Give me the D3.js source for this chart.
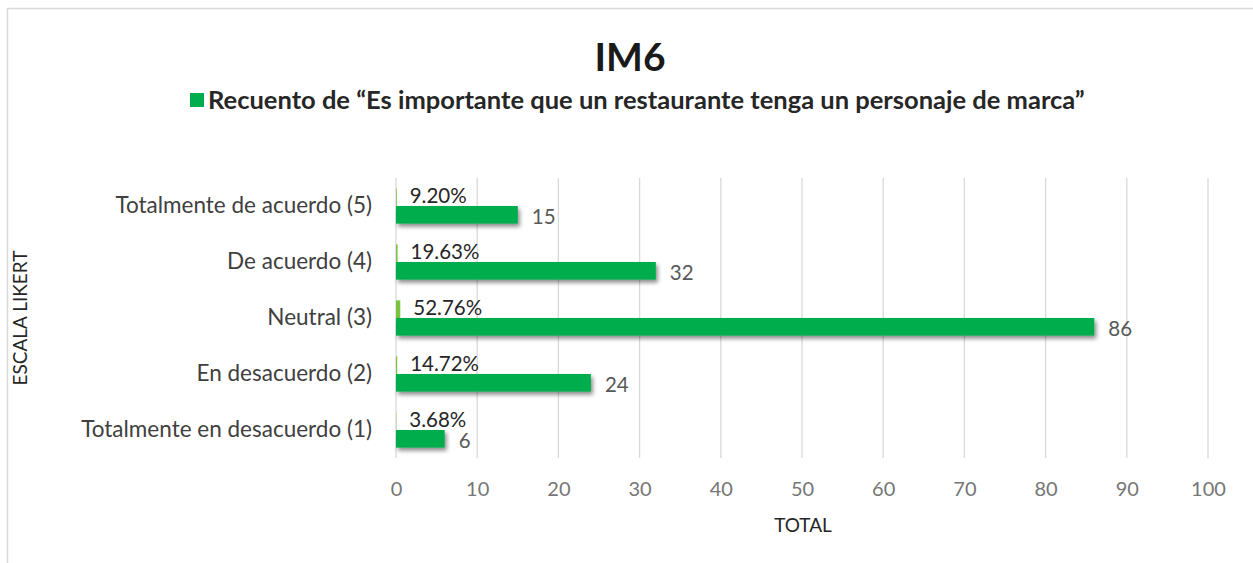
<!DOCTYPE html>
<html>
<head>
<meta charset="utf-8">
<script src="https://cdn.jsdelivr.net/npm/d3@7"></script>
<style>
  body { margin: 0; background: #fff; }
  svg { font-family: Lato, "Noto Sans", sans-serif; }
</style>
</head>
<body>
<div id="chart"></div>
<script>
// data
const categories = ["Totalmente de acuerdo (5)", "De acuerdo (4)", "Neutral (3)", "En desacuerdo (2)", "Totalmente en desacuerdo (1)"];
const counts = [15, 32, 86, 24, 6];
const shares = [0.0920, 0.1963, 0.5276, 0.1472, 0.0368];
const xTicks = [0, 10, 20, 30, 40, 50, 60, 70, 80, 90, 100];
const seriesName = "Recuento de \u201cEs importante que un restaurante tenga un personaje de marca\u201d";

const W = 1253, H = 563;
const margin = { top: 178, left: 396 };
const plotW = 812, plotH = 280;

const svg = d3.select("#chart").append("svg")
    .attr("width", W)
    .attr("height", H);

// shadow for bars
const defs = svg.append("defs");
const f = defs.append("filter").attr("id", "shadow")
    .attr("x", "-5%").attr("y", "-30%").attr("width", "115%").attr("height", "190%");
f.append("feDropShadow").attr("dx", 2).attr("dy", 3).attr("stdDeviation", 2.2)
    .attr("flood-color", "#000").attr("flood-opacity", 0.45);

// chart border
svg.append("rect")
    .attr("x", 7.5).attr("y", 8.5)
    .attr("width", W + 10).attr("height", H + 10)
    .attr("fill", "none").attr("stroke", "#d9d9d9").attr("stroke-width", 1.5);

svg.append("text")
    .attr("x", 630).attr("y", 71)
    .attr("text-anchor", "middle")
    .attr("font-size", 39).attr("font-weight", "bold").attr("fill", "#1a1a1a")
    .text("IM6");

// legend
const leg = svg.append("g");
leg.append("rect").attr("x", 190).attr("y", 93).attr("width", 14).attr("height", 14).attr("fill", "#00ad4e");
leg.append("text").attr("x", 208).attr("y", 109)
    .attr("font-size", 25.5).attr("font-weight", "bold").attr("fill", "#262626")
    .text(seriesName);

const g = svg.append("g").attr("transform", `translate(${margin.left},${margin.top})`);

const x = d3.scaleLinear().domain([0, 100]).range([0, plotW]);
const y = d3.scaleBand().domain(categories).range([0, plotH]).paddingInner(0.37).paddingOuter(0.185);
const sub = d3.scaleBand().domain(["pct", "cnt"]).range([0, y.bandwidth()]).padding(0.0);

// gridlines
g.append("g")
    .selectAll("line")
    .data(xTicks)
    .join("line")
    .attr("x1", d => x(d)).attr("x2", d => x(d))
    .attr("y1", 0).attr("y2", plotH)
    .attr("stroke", "#d9d9d9").attr("stroke-width", 1.3);

// x axis
const xAxis = g.append("g")
    .attr("transform", `translate(0,${plotH})`)
    .call(d3.axisBottom(x).tickValues(xTicks).tickSize(0).tickPadding(24));
xAxis.select(".domain").remove();
xAxis.selectAll("text").attr("font-size", 20).attr("fill", "#767676").attr("font-family", "Lato, sans-serif");

// y axis
const yAxis = g.append("g")
    .call(d3.axisLeft(y).tickSize(0).tickPadding(24));
yAxis.select(".domain").remove();
yAxis.selectAll("text").attr("font-size", 22.5).attr("fill", "#404040").attr("font-family", "Lato, sans-serif");

// percent bars (tiny, same axis)
g.selectAll(".pbar")
    .data(categories)
    .join("rect")
    .attr("class", "pbar")
    .attr("x", 0)
    .attr("y", d => y(d) + sub("pct"))
    .attr("width", (d, i) => x(shares[i]))
    .attr("height", sub.bandwidth())
    .attr("fill", "#7cc242");

// count bars
g.selectAll(".bar")
    .data(categories)
    .join("rect")
    .attr("class", "bar")
    .attr("x", 0)
    .attr("y", d => y(d) + sub("cnt"))
    .attr("width", (d, i) => x(counts[i]))
    .attr("height", sub.bandwidth())
    .attr("fill", "#00ad4e")
    .attr("filter", "url(#shadow)");

// labels
g.selectAll(".plabel")
    .data(categories)
    .join("text")
    .attr("class", "plabel")
    .attr("x", (d, i) => x(shares[i]) + 13)
    .attr("y", d => y(d) + sub("pct") + sub.bandwidth() / 2 - 1)
    .attr("dy", "0.35em")
    .attr("font-size", 20.5).attr("fill", "#262626")
    .text((d, i) => (shares[i] * 100).toFixed(2) + "%");

g.selectAll(".clabel")
    .data(categories)
    .join("text")
    .attr("class", "clabel")
    .attr("x", (d, i) => x(counts[i]) + 14)
    .attr("y", d => y(d) + sub("cnt") + sub.bandwidth() / 2 + 2)
    .attr("dy", "0.35em")
    .attr("font-size", 20.5).attr("fill", "#595959")
    .text((d, i) => counts[i]);

// axis titles
svg.append("text")
    .attr("x", 803).attr("y", 532)
    .attr("text-anchor", "middle")
    .attr("font-size", 19).attr("fill", "#262626")
    .text("TOTAL");

svg.append("text")
    .attr("transform", "translate(27,318) rotate(-90)")
    .attr("text-anchor", "middle")
    .attr("font-size", 19).attr("fill", "#262626")
    .text("ESCALA LIKERT");
</script>
</body>
</html>
